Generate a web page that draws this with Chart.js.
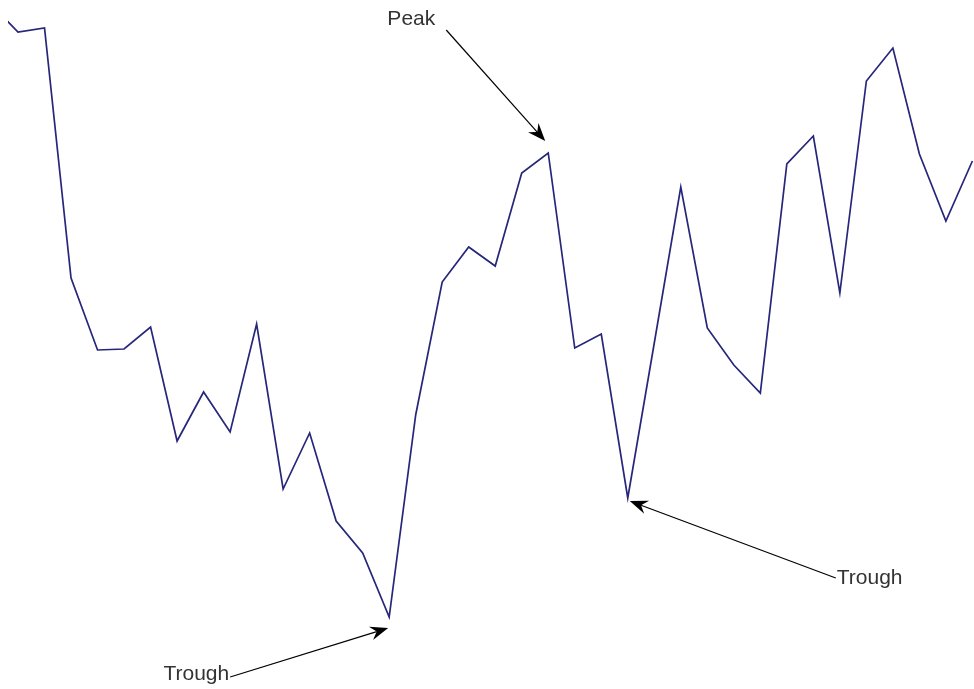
<!DOCTYPE html>
<html>
<head>
<meta charset="utf-8">
<script src="https://cdn.jsdelivr.net/npm/chart.js@4/dist/chart.umd.min.js"></script>
<style>
  html, body { margin: 0; padding: 0; background: #fff; }
  #wrap { width: 974px; height: 689px; }
</style>
</head>
<body>
<div id="wrap"><canvas id="peak-trough" width="974" height="689"></canvas></div>
<script>
// period numbers and price level at each period
const periods = [0, 1, 2, 3, 4, 5, 6, 7, 8, 9, 10, 11, 12, 13, 14, 15, 16, 17, 18, 19,
                 20, 21, 22, 23, 24, 25, 26, 27, 28, 29, 30, 31, 32, 33, 34, 35, 36, 37];
const prices = [68.4, 65.7, 66.1, 41.1, 33.9, 34.0, 36.2, 24.8, 29.7, 25.7,
                36.5, 20.0, 25.6, 16.8, 13.6, 7.2, 27.4, 40.7, 44.2, 42.3,
                51.6, 53.6, 34.1, 35.5, 19.1, 34.6, 50.2, 36.1, 32.4, 29.6,
                52.5, 55.3, 39.6, 60.8, 64.1, 53.5, 46.8, 52.8];

// which period each callout points at
const calloutText = ["Peak", "Trough", "Trough"];
const calloutPeriod = [21, 15, 24];

// where the arrow tip and tail sit, relative to the point
const calloutStyle = [
  { tip: [-3, -12], tail: [-99, -111], align: "right", tx: -11, ty: -5, base: "alphabetic" },
  { tip: [-1, 11], tail: [-158, 49], align: "right", tx: -1, ty: 3, base: "alphabetic" },
  { tip: [2, 3], tail: [206, 77], align: "left", tx: 1, ty: 0, base: "middle" }
];

const calloutPlugin = {
  id: "callouts",
  afterDatasetsDraw(chart) {
    const ctx = chart.ctx;
    const pts = chart.getDatasetMeta(0).data;
    ctx.save();
    calloutText.forEach((txt, i) => {
      const p = pts[calloutPeriod[i]];
      const s = calloutStyle[i];
      const tipX = p.x + s.tip[0], tipY = p.y + s.tip[1];
      const tailX = tipX + s.tail[0], tailY = tipY + s.tail[1];
      const ang = Math.atan2(tipY - tailY, tipX - tailX);
      const len = 18, half = 7, notch = 12;

      ctx.strokeStyle = "#000";
      ctx.lineWidth = 1.2;
      ctx.beginPath();
      ctx.moveTo(tailX, tailY);
      ctx.lineTo(tipX - Math.cos(ang) * notch, tipY - Math.sin(ang) * notch);
      ctx.stroke();

      ctx.fillStyle = "#000";
      ctx.beginPath();
      ctx.moveTo(tipX, tipY);
      ctx.lineTo(tipX - Math.cos(ang) * len - Math.sin(ang) * half,
                 tipY - Math.sin(ang) * len + Math.cos(ang) * half);
      ctx.lineTo(tipX - Math.cos(ang) * notch, tipY - Math.sin(ang) * notch);
      ctx.lineTo(tipX - Math.cos(ang) * len + Math.sin(ang) * half,
                 tipY - Math.sin(ang) * len - Math.cos(ang) * half);
      ctx.closePath();
      ctx.fill();

      ctx.fillStyle = "#333";
      ctx.font = "21px 'Liberation Sans', Arial, sans-serif";
      ctx.textAlign = s.align;
      ctx.textBaseline = s.base;
      ctx.fillText(txt, tailX + s.tx, tailY + s.ty);
    });
    ctx.restore();
  }
};

new Chart(document.getElementById("peak-trough"), {
  type: "line",
  data: {
    datasets: [{
      data: periods.map((t, i) => ({ x: t, y: prices[i] })),
      borderColor: "#26267a",
      borderWidth: 1.7,
      pointRadius: 0,
      tension: 0,
      fill: false
    }]
  },
  options: {
    responsive: false,
    animation: false,
    layout: { padding: { left: 8, right: 0, top: 0, bottom: 0 } },
    plugins: { legend: { display: false }, tooltip: { enabled: false } },
    scales: {
      x: { type: "linear", display: false, min: 0.622, max: 37.06 },
      y: { display: false, min: 0, max: 68.9 }
    }
  },
  plugins: [calloutPlugin]
});
</script>
</body>
</html>
